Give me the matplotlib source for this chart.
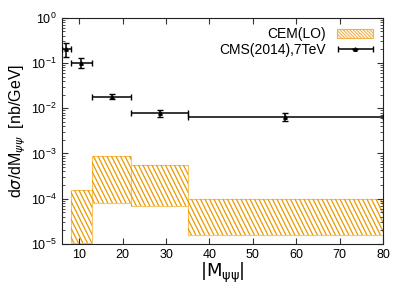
import numpy as np
import matplotlib
matplotlib.use("Agg")
import matplotlib.pyplot as plt
from matplotlib.collections import LineCollection
from matplotlib.patches import Patch
from matplotlib.container import ErrorbarContainer
from matplotlib.legend_handler import HandlerErrorbar

plt.rcParams['font.family'] = ['Liberation Sans', 'DejaVu Sans']
plt.rcParams['hatch.linewidth'] = 0.8

# CMS(2014), 7 TeV data points (bins in M_psipsi)
cms_lo = [6, 8, 13, 22, 35]
cms_hi = [8, 13, 22, 35, 80]
cms_val = [0.20, 0.10, 0.018, 0.0077, 0.0065]
cms_err_up = [0.075, 0.032, 0.0022, 0.0015, 0.0013]
cms_err_dn = [0.065, 0.022, 0.0020, 0.0012, 0.0012]

# CEM(LO) bands
cem_lo_edge = [8, 13, 22, 35]
cem_hi_edge = [13, 22, 35, 80]
cem_upper = [1.6e-4, 8.8e-4, 5.5e-4, 1.0e-4]
cem_lower = [1.05e-5, 8.1e-5, 6.8e-5, 1.6e-5]

orange = '#eb9a00'
light = '#f7c56a'

fig = plt.figure(figsize=(4.07, 3.06), dpi=100)
ax = fig.add_axes([0.152, 0.2026, 0.789, 0.7395])

lo = np.array(cem_lo_edge)
hi = np.array(cem_hi_edge)
up = np.array(cem_upper)
dn = np.array(cem_lower)
bars = ax.bar(lo, up - dn, width=hi - lo, bottom=dn, align='edge',
              facecolor='white', edgecolor=light, linewidth=0.8, zorder=1)

# steep gnuplot-like hatch: lines drawn in axes space, clipped to each band
wpx, hpx = 0.789 * 407, 0.7395 * 306
step = 4.5 / wpx
slope = 2.0
starts = np.arange(-1.0, 1.5, step)
segs = [[(s, 1.0), (s + hpx / slope / wpx, 0.0)] for s in starts]
for b in bars:
    lc = LineCollection(segs, colors=orange, linewidths=0.9,
                        transform=ax.transAxes, zorder=1.2)
    ax.add_collection(lc, autolim=False)
    lc.set_clip_path(b)

x_lo = np.array(cms_lo)
x_hi = np.array(cms_hi)
xc = (x_lo + x_hi) / 2
eb = ax.errorbar(xc, cms_val, xerr=[xc - x_lo, x_hi - xc],
                 yerr=[cms_err_dn, cms_err_up], fmt='^', color='black',
                 markersize=2.5, elinewidth=1.1, capsize=2.5, capthick=1,
                 zorder=3)

ax.set_yscale('log')
ax.set_xlim(6, 80)
ax.set_ylim(1e-5, 1)
ax.set_xticks([10, 20, 30, 40, 50, 60, 70, 80])
ax.tick_params(which='both', direction='in', top=True, right=True,
               labelsize=9, colors='#333333', labelcolor='black')
ax.tick_params(which='major', length=4)
ax.tick_params(which='minor', length=2)
for s in ax.spines.values():
    s.set_color('#222222')

ax.set_xlabel(r'$\mathsf{|M_{\psi\psi}|}$', fontsize=13, labelpad=0)
ax.set_ylabel(r'd$\sigma$/dM$_{\psi\psi}$  [nb/GeV]', fontsize=11.5, labelpad=2)

cem_handle = Patch(facecolor='white', edgecolor='#f2b04a', hatch='\\' * 10,
                   linewidth=0.8)
ax.legend([cem_handle, eb], ['CEM(LO)', 'CMS(2014),7TeV'],
          loc='upper right', frameon=False, markerfirst=False, fontsize=10,
          handlelength=2.6, borderaxespad=0.3, labelspacing=0.1,
          handleheight=0.6,
          handler_map={ErrorbarContainer: HandlerErrorbar(xerr_size=1.25,
                                                          yerr_size=0)})

fig.savefig('out.png', dpi=100)
